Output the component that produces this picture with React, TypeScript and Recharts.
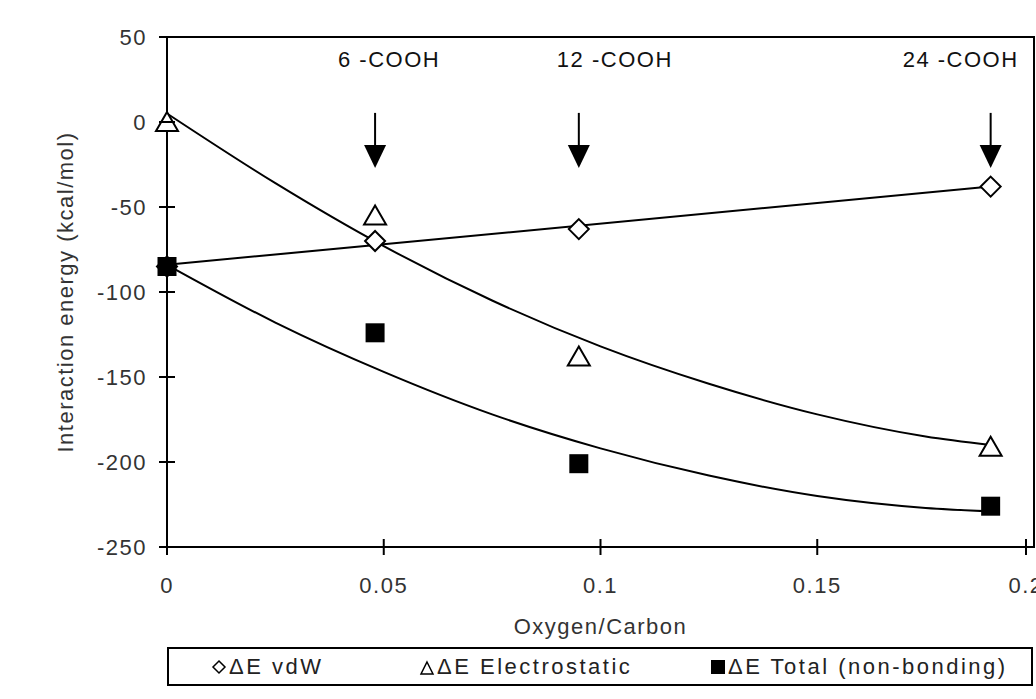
import React from 'react'
import {
  ComposedChart,
  Line,
  Scatter,
  XAxis,
  YAxis,
  ReferenceArea,
  Label,
} from 'recharts'

// measured points (O/C ratio vs energy, kcal/mol)
const ocRatio = [0, 0.048, 0.095, 0.19]
const vdwEnergy = [-85, -70, -63, -38]
const elecEnergy = [0, -55, -138, -191]
const totalEnergy = [-85, -124, -201, -226]

// trend lines
const vdwTrendX = [0, 0.19]
const vdwTrendY = [-84, -38]
const curveTrendX = [0, 0.025, 0.05, 0.075, 0.1, 0.125, 0.15, 0.175, 0.19]
const elecTrendY = [5, -36, -73, -105, -132, -154, -172, -185, -190]
const totalTrendY = [-84, -118, -147, -172, -192, -208, -220, -227, -229]

// annotations
const arrowX = [0.048, 0.095, 0.19]
const arrowTipY = -27
const annotationText = ['6 -COOH', '12 -COOH', '24 -COOH']
const annotationY = 37

const xTicks = [0, 0.05, 0.1, 0.15, 0.2]
const yTicks = [50, 0, -50, -100, -150, -200, -250]

const legendItems = [
  { name: 'ΔE vdW', marker: 'diamond' },
  { name: 'ΔE Electrostatic', marker: 'triangle' },
  { name: 'ΔE Total (non-bonding)', marker: 'square' },
]

const toPoints = (xs: number[], ys: number[]) =>
  xs.map((x, i) => ({ x, y: ys[i] }))

const FONT = '"Liberation Sans", Arial, sans-serif'
const textStyle = { fontFamily: FONT, fontSize: 22, letterSpacing: 1.5 }
const annotationDx = [14, 36, -30]

const Diamond = ({ cx, cy }: any) => (
  <path
    d={`M${cx},${cy - 10} L${cx + 10},${cy} L${cx},${cy + 10} L${cx - 10},${cy} Z`}
    fill="#fff"
    stroke="#000"
    strokeWidth={2}
  />
)

const Triangle = ({ cx, cy }: any) => (
  <path
    d={`M${cx},${cy - 10} L${cx + 11},${cy + 9} L${cx - 11},${cy + 9} Z`}
    fill="#fff"
    stroke="#000"
    strokeWidth={2}
  />
)

const Square = ({ cx, cy }: any) => (
  <rect x={cx - 9.5} y={cy - 9.5} width={19} height={19} fill="#000" />
)

const Arrow = ({ cx, cy }: any) => (
  <g>
    <line x1={cx} x2={cx} y1={cy - 55} y2={cy - 20} stroke="#000" strokeWidth={2} />
    <path d={`M${cx - 11},${cy - 23} L${cx + 11},${cy - 23} L${cx},${cy} Z`} fill="#000" />
  </g>
)

const Annotation = ({ cx, cy, index }: any) => (
  <text
    x={cx + annotationDx[index]}
    y={cy}
    dy="0.355em"
    textAnchor="middle"
    fill="#111"
    style={textStyle}
  >
    {annotationText[index]}
  </text>
)

const YTick = ({ x, y, payload }: any) => (
  <g>
    <line x1={x - 8} x2={x + 8} y1={y} y2={y} stroke="#000" strokeWidth={2} />
    <text x={x - 20} y={y} dy="0.355em" textAnchor="end" fill="#333" style={textStyle}>
      {payload.value}
    </text>
  </g>
)

const XTick = ({ x, y, payload }: any) => (
  <g>
    <line x1={x} x2={x} y1={y - 8} y2={y + 8} stroke="#000" strokeWidth={2} />
    <text x={x} y={y + 30} dy="0.71em" textAnchor="middle" fill="#333" style={textStyle}>
      {payload.value}
    </text>
  </g>
)

const LegendMarker = ({ type }: { type: string }) => (
  <svg width={16} height={16} style={{ marginRight: 2 }}>
    {type === 'diamond' && (
      <path d="M8,2 L14,8 L8,14 L2,8 Z" fill="#fff" stroke="#000" strokeWidth={1.5} />
    )}
    {type === 'triangle' && (
      <path d="M8,3 L14,15 L2,15 Z" fill="#fff" stroke="#000" strokeWidth={1.5} />
    )}
    {type === 'square' && <rect x={1} y={1} width={14} height={14} fill="#000" />}
  </svg>
)

const legendLeft = [42, 250, 541]

export default function App() {
  return (
    <div
      style={{
        position: 'absolute',
        left: 0,
        top: 0,
        width: 1036,
        height: 699,
        background: '#fff',
        overflow: 'hidden',
      }}
    >
      <ComposedChart
        width={1036}
        height={699}
        margin={{ top: 37, right: 2, left: 40, bottom: 60 }}
      >
        <XAxis
          type="number"
          dataKey="x"
          domain={[0, 0.2]}
          ticks={xTicks}
          height={92}
          tickSize={0}
          tickMargin={0}
          tickLine={false}
          tick={<XTick />}
          axisLine={{ stroke: '#000', strokeWidth: 2 }}
        >
          <Label
            content={({ viewBox }: any) => (
              <text
                x={viewBox.x + viewBox.width / 2}
                y={viewBox.y + viewBox.height - 5}
                textAnchor="middle"
                fill="#333"
                style={textStyle}
              >
                Oxygen/Carbon
              </text>
            )}
          />
        </XAxis>
        <YAxis
          type="number"
          dataKey="y"
          domain={[-250, 50]}
          ticks={yTicks}
          width={127}
          tickSize={0}
          tickMargin={0}
          tickLine={false}
          tick={<YTick />}
          axisLine={{ stroke: '#000', strokeWidth: 2 }}
        >
          <Label
            content={({ viewBox }: any) => {
              const cx = viewBox.x + 25
              const cy = viewBox.y + viewBox.height / 2
              return (
                <text
                  x={cx}
                  y={cy}
                  dy="0.355em"
                  textAnchor="middle"
                  transform={`rotate(-90, ${cx}, ${cy})`}
                  fill="#333"
                  style={textStyle}
                >
                  Interaction energy (kcal/mol)
                </text>
              )
            }}
          />
        </YAxis>

        <ReferenceArea
          x1={0}
          x2={0.2}
          y1={-250}
          y2={50}
          fill="none"
          stroke="#000"
          strokeWidth={2}
        />

        <Line
          data={toPoints(vdwTrendX, vdwTrendY)}
          dataKey="y"
          type="linear"
          stroke="#000"
          strokeWidth={2}
          dot={false}
          isAnimationActive={false}
        />
        <Line
          data={toPoints(curveTrendX, elecTrendY)}
          dataKey="y"
          type="monotone"
          stroke="#000"
          strokeWidth={2}
          dot={false}
          isAnimationActive={false}
        />
        <Line
          data={toPoints(curveTrendX, totalTrendY)}
          dataKey="y"
          type="monotone"
          stroke="#000"
          strokeWidth={2}
          dot={false}
          isAnimationActive={false}
        />

        <Scatter
          data={toPoints(ocRatio, vdwEnergy)}
          dataKey="y"
          shape={<Diamond />}
          isAnimationActive={false}
        />
        <Scatter
          data={toPoints(ocRatio, elecEnergy)}
          dataKey="y"
          shape={<Triangle />}
          isAnimationActive={false}
        />
        <Scatter
          data={toPoints(ocRatio, totalEnergy)}
          dataKey="y"
          shape={<Square />}
          isAnimationActive={false}
        />
        <Scatter
          data={arrowX.map((x) => ({ x, y: arrowTipY }))}
          dataKey="y"
          shape={<Arrow />}
          isAnimationActive={false}
        />
        <Scatter
          data={arrowX.map((x) => ({ x, y: annotationY }))}
          dataKey="y"
          shape={(p: any) => <Annotation {...p} />}
          isAnimationActive={false}
        />
      </ComposedChart>

      <div
        style={{
          position: 'absolute',
          left: 167,
          top: 647,
          width: 866,
          height: 39,
          border: '2px solid #000',
          boxSizing: 'border-box',
          fontFamily: FONT,
          fontSize: 22,
          letterSpacing: 2.5,
          color: '#222',
        }}
      >
        {legendItems.map((item, i) => (
          <div
            key={item.name}
            style={{
              position: 'absolute',
              left: legendLeft[i],
              top: 0,
              height: 35,
              display: 'flex',
              alignItems: 'center',
              whiteSpace: 'nowrap',
            }}
          >
            <LegendMarker type={item.marker} />
            <span>{item.name}</span>
          </div>
        ))}
      </div>
    </div>
  )
}
